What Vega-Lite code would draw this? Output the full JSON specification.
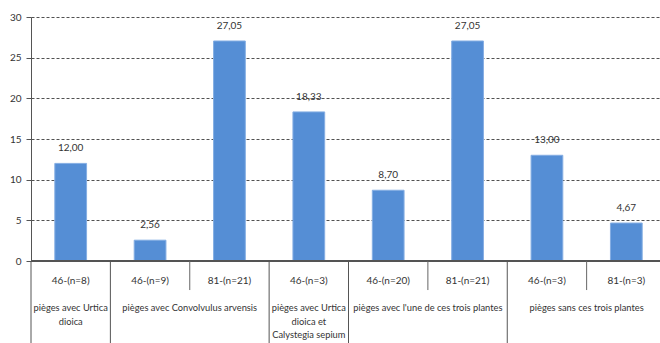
{
  "$schema": "https://vega.github.io/schema/vega-lite/v6.json",
  "width": 635,
  "height": 244,
  "autosize": {"type": "none"},
  "padding": {"left": 31, "top": 17, "right": 0, "bottom": 82},
  "background": "white",
  "config": {
    "view": {"stroke": null},
    "font": "Lato",
    "locale": {"number": {"decimal": ",", "thousands": " ", "grouping": [3], "currency": ["", " €"]}}
  },
  "data": {"values": [
    {"id": 1, "cat": "46-(n=8)", "value": 12.00, "group": "pièges avec Urtica\ndioica"},
    {"id": 2, "cat": "46-(n=9)", "value": 2.56, "group": "pièges avec Convolvulus arvensis"},
    {"id": 3, "cat": "81-(n=21)", "value": 27.05, "group": "pièges avec Convolvulus arvensis"},
    {"id": 4, "cat": "46-(n=3)", "value": 18.33, "group": "pièges avec Urtica\ndioica et\nCalystegia sepium"},
    {"id": 5, "cat": "46-(n=20)", "value": 8.70, "group": "pièges avec l'une de ces trois plantes"},
    {"id": 6, "cat": "81-(n=21)", "value": 27.05, "group": "pièges avec l'une de ces trois plantes"},
    {"id": 7, "cat": "46-(n=3)", "value": 13.00, "group": "pièges sans ces trois plantes"},
    {"id": 8, "cat": "81-(n=3)", "value": 4.67, "group": "pièges sans ces trois plantes"}
  ]},
  "layer": [
    {
      "mark": {"type": "bar", "color": "#558ED5", "stroke": "#85AEE3", "strokeWidth": 1, "width": {"band": 0.4}},
      "encoding": {
        "x": {"field": "id", "type": "ordinal", "axis": null, "scale": {"paddingInner": 0, "paddingOuter": 0}},
        "y": {
          "field": "value", "type": "quantitative",
          "scale": {"domain": [0, 30], "nice": false},
          "axis": {
            "title": null, "values": [0, 5, 10, 15, 20, 25, 30],
            "grid": true, "gridDash": [3, 2], "gridColor": "#333", "gridOpacity": 0.85,
            "domainColor": "#555", "tickColor": "#555", "tickSize": 5,
            "labelPadding": 5, "labelFontSize": 10, "labelColor": "#333", "labelFont": "Lato"
          }
        }
      }
    },
    {
      "mark": {"type": "rule", "color": "#555", "strokeWidth": 1},
      "encoding": {"y": {"datum": 0}}
    },
    {
      "mark": {"type": "text", "baseline": "bottom", "dy": -10, "fontSize": 10, "color": "#333", "font": "Lato"},
      "encoding": {
        "x": {"field": "id", "type": "ordinal"},
        "y": {"field": "value", "type": "quantitative"},
        "text": {"field": "value", "type": "quantitative", "format": ".2f"}
      }
    },
    {
      "mark": {"type": "text", "baseline": "middle", "fontSize": 10, "color": "#333", "font": "Lato"},
      "encoding": {
        "x": {"field": "id", "type": "ordinal"},
        "y": {"datum": -2.4},
        "text": {"field": "cat"}
      }
    },
    {
      "transform": [{"filter": {"field": "id", "oneOf": [3, 6, 8]}}],
      "mark": {"type": "rule", "color": "#666", "strokeWidth": 1},
      "encoding": {
        "x": {"field": "id", "type": "ordinal", "bandPosition": 0},
        "y": {"datum": 0},
        "y2": {"datum": -3.57}
      }
    },
    {
      "transform": [{"filter": {"field": "id", "oneOf": [1, 2, 4, 5, 7]}}],
      "mark": {"type": "rule", "color": "#555", "strokeWidth": 1},
      "encoding": {
        "x": {"field": "id", "type": "ordinal", "bandPosition": 0},
        "y": {"datum": 0},
        "y2": {"datum": -10.3}
      }
    },
    {
      "transform": [{"filter": {"field": "id", "oneOf": [1, 4]}}],
      "mark": {"type": "text", "baseline": "top", "dy": -4, "fontSize": 9.3, "color": "#333", "font": "Lato", "lineBreak": "\n", "lineHeight": 13.5},
      "encoding": {
        "x": {"field": "id", "type": "ordinal", "bandPosition": 0.5},
        "y": {"datum": -5.78},
        "text": {"field": "group"}
      }
    },
    {
      "transform": [{"filter": {"field": "id", "oneOf": [3, 6, 8]}}],
      "mark": {"type": "text", "baseline": "top", "dy": -4, "fontSize": 9.3, "color": "#333", "font": "Lato", "lineBreak": "\n", "lineHeight": 13.5},
      "encoding": {
        "x": {"field": "id", "type": "ordinal", "bandPosition": 0},
        "y": {"datum": -5.78},
        "text": {"field": "group"}
      }
    }
  ]
}
